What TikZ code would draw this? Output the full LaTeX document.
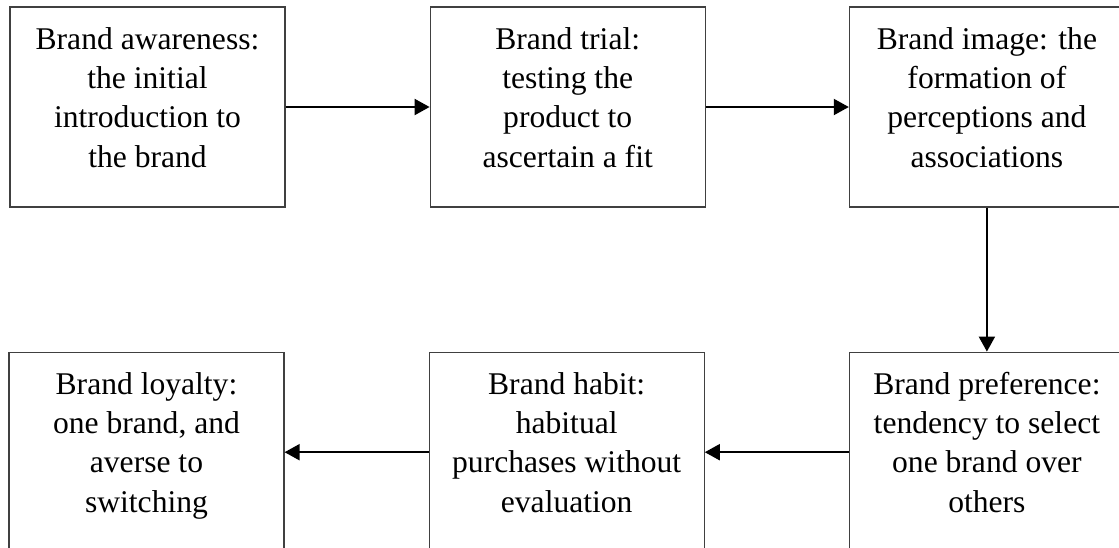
\documentclass[tikz,border=0pt]{standalone}
\usepackage{fontspec}
\setmainfont{Liberation Serif}
\usetikzlibrary{arrows.meta,positioning}

\begin{document}
\begin{tikzpicture}
  [->,>={Triangle[length=7.5pt,width=8pt]},line width=1pt,
  node distance=72pt,
	stage node/.style={rectangle,draw=black!75,line width=0.6pt,
  align=center,minimum width=137.5pt,minimum height=100pt,
  inner sep=0pt,text height=69.85pt,text depth=9.85pt,
  font=\fontsize{15.8}{19.65}\selectfont}]

  \useasboundingbox (0,0) rectangle (559.5pt,-273.5pt);
  \clip (0,0) rectangle (559.5pt,-273.5pt);

  \node[stage node] (aware) at (73.75pt,-53.5pt)
    {Brand awareness:\\the initial\\introduction to\\the brand};
  \node[stage node] (trial) [right=of aware]
    {Brand trial:\\testing the\\product to\\ascertain a fit};
  \node[stage node] (image) [right=71.5pt of trial]
    {Brand image: the\\formation of\\perceptions and\\associations};
  \node[stage node] (pref) [below=of image]
    {Brand preference:\\tendency to select\\one brand over\\others};
  \node[stage node] (habit) [left=of pref]
    {Brand habit:\\habitual\\purchases without\\evaluation};
  \node[stage node] (loyal) [left=of habit]
    {Brand loyalty:\\one brand, and\\averse to\\switching};

  \draw (aware) -- (trial);
  \draw (trial) -- (image);
  \draw (image) -- (pref);
  \draw (pref) -- (habit);
  \draw (habit) -- (loyal);
\end{tikzpicture}
\end{document}
